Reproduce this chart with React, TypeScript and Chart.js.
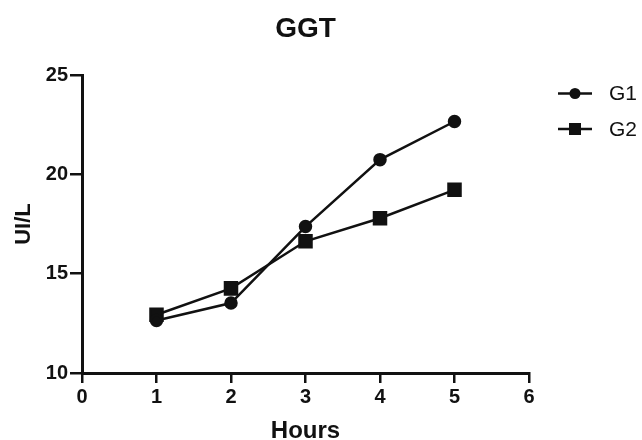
import React, { useEffect, useRef } from "react";
import { Chart, registerables } from "chart.js";

Chart.register(...registerables);

const hours = [1, 2, 3, 4, 5];
const g1 = [12.64, 13.52, 17.37, 20.74, 22.66];
const g2 = [12.93, 14.26, 16.63, 17.79, 19.22];
const seriesNames = ["G1", "G2"];
const xTicks = [0, 1, 2, 3, 4, 5, 6];
const yTicks = [10, 15, 20, 25];

const FONT = "'Liberation Sans', Arial, sans-serif";

const legendPlugin = {
  id: "customLegend",
  afterDraw(chart: any) {
    const ctx = chart.ctx;
    const area = chart.chartArea;
    const x0 = area.right + 29;
    const ys = [area.top + 18.5, area.top + 54];
    ctx.save();
    chart.data.datasets.forEach((ds: any, i: number) => {
      const y = ys[i];
      ctx.strokeStyle = "#111";
      ctx.lineWidth = 2.5;
      ctx.beginPath();
      ctx.moveTo(x0, y);
      ctx.lineTo(x0 + 34, y);
      ctx.stroke();
      ctx.fillStyle = "#111";
      const cx = x0 + 17;
      if (ds.pointStyle === "rect") {
        ctx.fillRect(cx - 6, y - 6, 12, 12);
      } else {
        ctx.beginPath();
        ctx.arc(cx, y, 5.5, 0, Math.PI * 2);
        ctx.fill();
      }
      ctx.font = `21px ${FONT}`;
      ctx.textAlign = "left";
      ctx.textBaseline = "middle";
      ctx.fillStyle = "#111";
      ctx.fillText(ds.label, x0 + 51, y + 1);
    });
    ctx.restore();
  },
};

export default function App() {
  const ref = useRef<HTMLCanvasElement>(null);
  useEffect(() => {
    document.body.style.margin = "0";
    const chart = new Chart(ref.current!, {
      type: "line",
      data: {
        datasets: [
          {
            label: seriesNames[0],
            data: hours.map((h, i) => ({ x: h, y: g1[i] })),
            borderColor: "#111",
            backgroundColor: "#111",
            borderWidth: 2.5,
            pointStyle: "circle",
            pointRadius: 5.5,
            pointHoverRadius: 5.5,
          },
          {
            label: seriesNames[1],
            data: hours.map((h, i) => ({ x: h, y: g2[i] })),
            borderColor: "#111",
            backgroundColor: "#111",
            borderWidth: 2.5,
            pointStyle: "rect",
            pointRadius: 8.5,
            pointHoverRadius: 8.5,
          },
        ],
      },
      options: {
        animation: false,
        responsive: false,
        layout: { padding: { left: 0, right: 113, top: 0, bottom: 0 } },
        plugins: {
          legend: { display: false },
          tooltip: { enabled: false },
          title: {
            display: true,
            text: "GGT",
            fullSize: false,
            color: "#111",
            font: { family: FONT, size: 28, weight: "bold", lineHeight: 1.2 },
            padding: { top: 12.2, bottom: 29.2 },
          },
        },
        scales: {
          x: {
            type: "linear",
            min: xTicks[0],
            max: xTicks[xTicks.length - 1],
            afterBuildTicks: (s: any) => {
              s.ticks = xTicks.map((v) => ({ value: v }));
            },
            afterFit: (s: any) => {
              s.height = 67;
            },
            border: { display: true, color: "#111", width: 3 },
            grid: {
              drawOnChartArea: false,
              drawTicks: true,
              tickLength: 10,
              color: "#111",
              lineWidth: 2.5,
            },
            ticks: {
              color: "#111",
              padding: 2,
              font: { family: FONT, size: 20, weight: "bold" },
            },
            title: {
              display: true,
              text: "Hours",
              color: "#111",
              font: { family: FONT, size: 24, weight: "bold", lineHeight: 1.2 },
              padding: { top: 0, bottom: -5.4 },
            },
          },
          y: {
            type: "linear",
            min: yTicks[0],
            max: yTicks[yTicks.length - 1],
            afterBuildTicks: (s: any) => {
              s.ticks = yTicks.map((v) => ({ value: v }));
            },
            afterFit: (s: any) => {
              s.width = 82;
            },
            border: { display: true, color: "#111", width: 3 },
            grid: {
              drawOnChartArea: false,
              drawTicks: true,
              tickLength: 12,
              color: "#111",
              lineWidth: 2.5,
            },
            ticks: {
              color: "#111",
              padding: 2,
              font: { family: FONT, size: 20, weight: "bold" },
            },
            title: {
              display: true,
              text: "UI/L",
              color: "#111",
              font: { family: FONT, size: 22, weight: "bold", lineHeight: 1.2 },
              padding: { top: 10.8, bottom: 0 },
            },
          },
        },
      },
      plugins: [legendPlugin],
    } as any);
    return () => chart.destroy();
  }, []);
  return (
    <div style={{ width: 642, height: 440 }}>
      <canvas ref={ref} width={642} height={440} style={{ display: "block" }} />
    </div>
  );
}
